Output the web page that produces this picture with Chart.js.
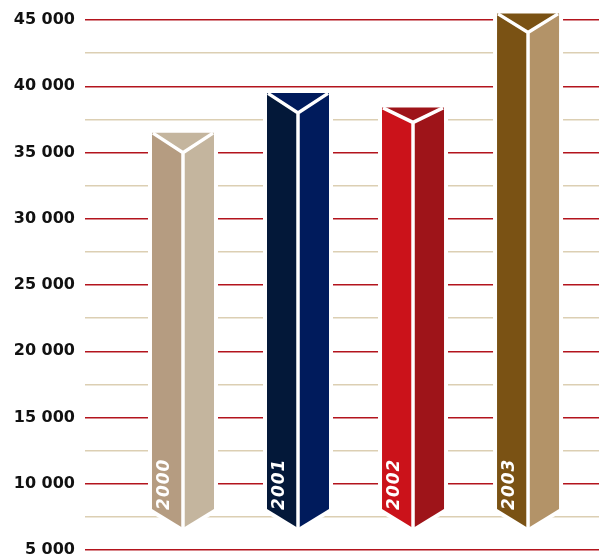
<!DOCTYPE html>
<html>
<head>
<meta charset="utf-8">
<script src="https://cdn.jsdelivr.net/npm/chart.js@4.4.1/dist/chart.umd.min.js"></script>
<style>
html, body { margin: 0; padding: 0; background: #fff; }
#wrap { width: 599px; height: 558px; }
</style>
</head>
<body>
<div id="wrap"><canvas id="prismChart"></canvas></div>
<script>
// values
var years = ['2000', '2001', '2002', '2003']
var values = [36500, 39500, 38400, 45500]
var barBase = 8100 // where the side edges of every prism stop
var tickValues = [5000, 7500, 10000, 12500, 15000, 17500, 20000, 22500, 25000,
    27500, 30000, 32500, 35000, 37500, 40000, 42500, 45000]
var tickLabels = ['5 000', '', '10 000', '', '15 000', '', '20 000', '', '25 000',
    '', '30 000', '', '35 000', '', '40 000', '', '45 000']

// face colours of each prism
var leftColors = ['#b59c81', '#031839', '#cb121a', '#7a5214']
var rightColors = ['#c4b59e', '#001b5c', '#9e1419', '#b39368']
var topColors = ['#c4b59e', '#001b5c', '#9e1419', '#7a5214']
var topDepth = [20, 20, 15, 19] // how far the top face dips in front, px

var majorGrid = '#b3141d'
var minorGrid = '#dccfb3'

// draws every bar as a triangular prism, using the bar element's own geometry
var prismPlugin = {
    id: 'prisms',
    afterDatasetsDraw: function (chart) {
        var ctx = chart.ctx
        var meta = chart.getDatasetMeta(0)
        meta.data.forEach(function (bar, i) {
            var w = bar.width
            var cx = bar.x
            var l = cx - w / 2
            var r = cx + w / 2
            var t = bar.y
            var b = bar.base
            var v = t + topDepth[i] // front vertex of the top face
            var tip = b + 19        // bottom point of the front edge
            ctx.save()
            // white halo that cuts the grid lines
            ctx.beginPath()
            ctx.moveTo(l, t); ctx.lineTo(r, t); ctx.lineTo(r, b); ctx.lineTo(cx, tip); ctx.lineTo(l, b)
            ctx.closePath()
            ctx.lineJoin = 'miter'
            ctx.lineWidth = 8
            ctx.strokeStyle = '#fff'
            ctx.stroke()
            // left face
            ctx.beginPath()
            ctx.moveTo(l, t); ctx.lineTo(cx, v); ctx.lineTo(cx, tip); ctx.lineTo(l, b)
            ctx.closePath()
            ctx.fillStyle = leftColors[i]
            ctx.fill()
            // right face
            ctx.beginPath()
            ctx.moveTo(r, t); ctx.lineTo(cx, v); ctx.lineTo(cx, tip); ctx.lineTo(r, b)
            ctx.closePath()
            ctx.fillStyle = rightColors[i]
            ctx.fill()
            // top face
            ctx.beginPath()
            ctx.moveTo(l, t); ctx.lineTo(r, t); ctx.lineTo(cx, v)
            ctx.closePath()
            ctx.fillStyle = topColors[i]
            ctx.fill()
            // white edges
            ctx.beginPath()
            ctx.moveTo(l + 1, t + 0.5); ctx.lineTo(cx, v); ctx.lineTo(r - 1, t + 0.5)
            ctx.moveTo(cx, v); ctx.lineTo(cx, tip)
            ctx.lineWidth = 3.5
            ctx.strokeStyle = '#fff'
            ctx.stroke()
            // year label inside the left face
            ctx.translate(l + 12.5, b + 1)
            ctx.rotate(-Math.PI / 2)
            ctx.font = 'italic bold 17px "DejaVu Sans"'
            ctx.letterSpacing = '1px'
            ctx.fillStyle = '#ffffff'
            ctx.textAlign = 'left'
            ctx.textBaseline = 'middle'
            ctx.fillText(years[i], 0, 0)
            ctx.restore()
        })
    }
}

var chartEl = document.getElementById('prismChart')
var prismChart = new Chart(chartEl, {
    type: 'bar',
    data: {
        datasets: [{
            data: years.map(function (y, i) { return { x: Number(y), y: [barBase, values[i]] } }),
            backgroundColor: 'rgba(0,0,0,0)',
            borderWidth: 0,
            barThickness: 62,
            clip: false
        }]
    },
    options: {
        responsive: true,
        maintainAspectRatio: false,
        animation: false,
        events: [],
        layout: {
            padding: { top: 20, bottom: 8, left: 0, right: 0 }
        },
        plugins: {
            legend: { display: false },
            tooltip: { enabled: false }
        },
        scales: {
            x: {
                type: 'linear',
                display: false,
                offset: false,
                min: 1999.148,
                max: 2003.617
            },
            y: {
                min: 5000,
                max: 45000,
                afterBuildTicks: function (scale) {
                    scale.ticks = tickValues.map(function (v) { return { value: v } })
                },
                afterFit: function (scale) {
                    scale.width = 85
                    scale.paddingTop = 0
                    scale.paddingBottom = 0
                },
                border: { display: false },
                grid: {
                    drawTicks: false,
                    lineWidth: 1.5,
                    color: function (c) {
                        return c.tick && c.tick.value % 5000 === 0 ? majorGrid : minorGrid
                    }
                },
                ticks: {
                    autoSkip: false,
                    padding: 10,
                    color: '#111111',
                    font: { family: '"DejaVu Sans"', weight: 'bold', size: 16 },
                    callback: function (value, index) {
                        return tickLabels[index]
                    }
                }
            }
        }
    },
    plugins: [prismPlugin]
})
</script>
</body>
</html>
